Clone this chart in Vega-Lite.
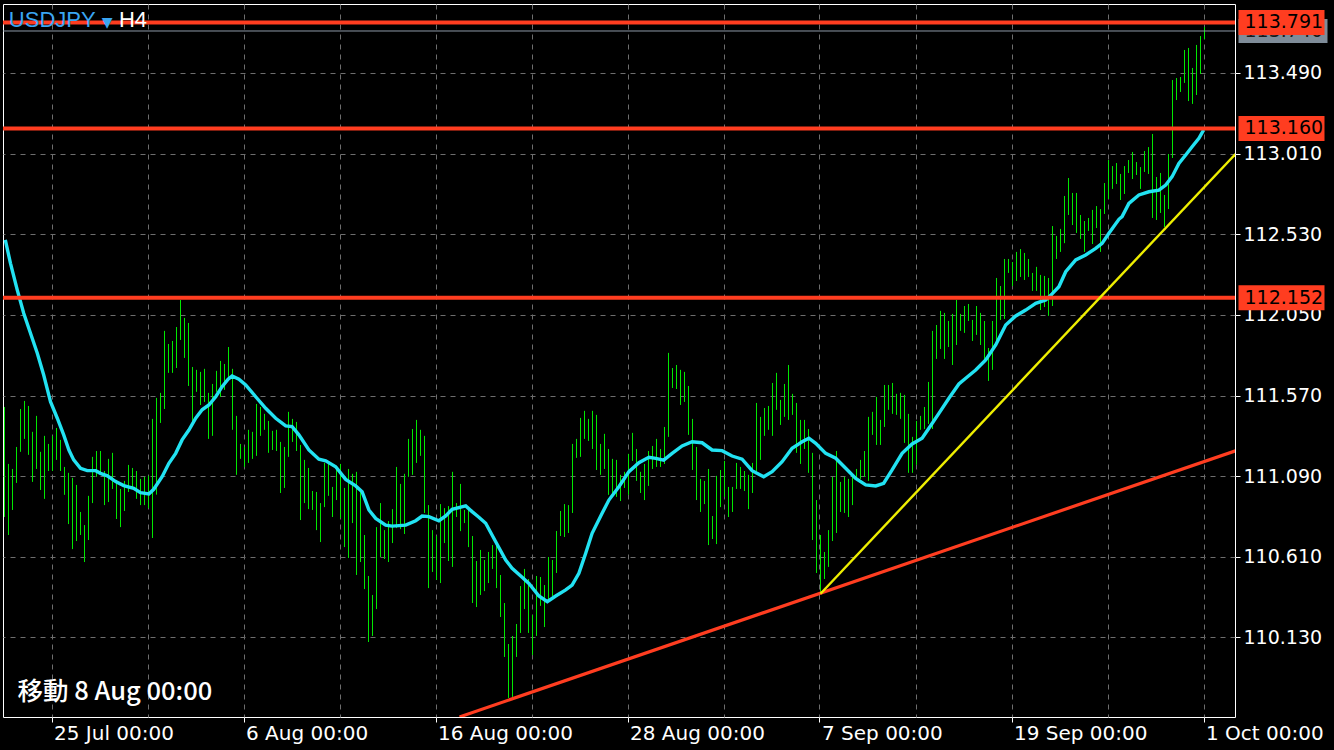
{
"$schema": "https://vega.github.io/schema/vega-lite/v6.json",
"autosize": {"type": "none"},
"width": 1232,
"height": 713,
"padding": {"left": 3, "top": 4, "right": 99, "bottom": 33},
"background": "#000000",
"config": {"view": {"stroke": "#ffffff", "strokeWidth": 1}},
"datasets": {
"bars": [
{"i":0,"h":111.502,"l":110.847},{"i":1,"h":111.163,"l":110.740},{"i":2,"h":111.133,"l":110.889},{"i":3,"h":111.264,"l":111.050},{"i":4,"h":111.490,"l":111.235},{"i":5,"h":111.538,"l":111.312},{"i":6,"h":111.508,"l":111.217},{"i":7,"h":111.354,"l":111.056},{"i":8,"h":111.449,"l":111.133},{"i":9,"h":111.235,"l":111.008},
{"i":10,"h":111.330,"l":110.955},{"i":11,"h":111.282,"l":111.121},{"i":12,"h":111.330,"l":111.121},{"i":13,"h":111.377,"l":111.187},{"i":14,"h":111.306,"l":111.121},{"i":15,"h":111.145,"l":110.979},{"i":16,"h":111.110,"l":110.805},{"i":17,"h":111.080,"l":110.656},{"i":18,"h":111.038,"l":110.704},{"i":19,"h":110.877,"l":110.740},
{"i":20,"h":110.799,"l":110.579},{"i":21,"h":110.973,"l":110.710},{"i":22,"h":111.205,"l":110.930},{"i":23,"h":111.240,"l":111.086},{"i":24,"h":111.240,"l":111.110},{"i":25,"h":111.121,"l":110.918},{"i":26,"h":111.193,"l":110.936},{"i":27,"h":111.229,"l":111.014},{"i":28,"h":111.068,"l":110.835},{"i":29,"h":111.014,"l":110.787},
{"i":30,"h":111.062,"l":110.883},{"i":31,"h":111.157,"l":110.996},{"i":32,"h":111.139,"l":111.014},{"i":33,"h":111.121,"l":110.955},{"i":34,"h":111.074,"l":110.918},{"i":35,"h":111.086,"l":110.918},{"i":36,"h":111.092,"l":110.900},{"i":37,"h":111.431,"l":110.722},{"i":38,"h":111.556,"l":110.980},{"i":39,"h":111.586,"l":111.407},
{"i":40,"h":111.955,"l":111.490},{"i":41,"h":111.877,"l":111.705},{"i":42,"h":111.895,"l":111.705},{"i":43,"h":111.978,"l":111.734},{"i":44,"h":112.139,"l":111.901},{"i":45,"h":112.032,"l":111.794},{"i":46,"h":112.002,"l":111.627},{"i":47,"h":111.740,"l":111.407},{"i":48,"h":111.723,"l":111.592},{"i":49,"h":111.711,"l":111.514},
{"i":50,"h":111.729,"l":111.532},{"i":51,"h":111.586,"l":111.312},{"i":52,"h":111.639,"l":111.330},{"i":53,"h":111.717,"l":111.592},{"i":54,"h":111.776,"l":111.562},{"i":55,"h":111.758,"l":111.604},{"i":56,"h":111.859,"l":111.663},{"i":57,"h":111.729,"l":111.366},{"i":58,"h":111.449,"l":111.098},{"i":59,"h":111.282,"l":111.193},
{"i":60,"h":111.264,"l":111.145},{"i":61,"h":111.366,"l":111.169},{"i":62,"h":111.354,"l":111.193},{"i":63,"h":111.520,"l":111.211},{"i":64,"h":111.502,"l":111.330},{"i":65,"h":111.461,"l":111.366},{"i":66,"h":111.419,"l":111.229},{"i":67,"h":111.360,"l":111.246},{"i":68,"h":111.366,"l":111.240},{"i":69,"h":111.294,"l":110.990},
{"i":70,"h":111.264,"l":111.020},{"i":71,"h":111.473,"l":111.205},{"i":72,"h":111.431,"l":111.294},{"i":73,"h":111.413,"l":111.240},{"i":74,"h":111.276,"l":110.829},{"i":75,"h":111.187,"l":110.930},{"i":76,"h":111.139,"l":110.894},{"i":77,"h":111.002,"l":110.889},{"i":78,"h":110.996,"l":110.769},{"i":79,"h":110.930,"l":110.698},
{"i":80,"h":111.169,"l":110.906},{"i":81,"h":111.163,"l":110.973},{"i":82,"h":111.026,"l":110.847},{"i":83,"h":111.127,"l":110.948},{"i":84,"h":111.163,"l":110.841},{"i":85,"h":111.020,"l":110.668},{"i":86,"h":111.133,"l":110.603},{"i":87,"h":111.104,"l":110.811},{"i":88,"h":111.116,"l":110.502},{"i":89,"h":111.008,"l":110.579},
{"i":90,"h":110.740,"l":110.418},{"i":91,"h":110.496,"l":110.103},{"i":92,"h":110.383,"l":110.139},{"i":93,"h":110.787,"l":110.299},{"i":94,"h":110.930,"l":110.609},{"i":95,"h":110.769,"l":110.597},{"i":96,"h":110.823,"l":110.579},{"i":97,"h":110.894,"l":110.692},{"i":98,"h":111.145,"l":110.781},{"i":99,"h":111.044,"l":110.775},
{"i":100,"h":111.104,"l":110.746},{"i":101,"h":111.312,"l":111.086},{"i":102,"h":111.371,"l":111.098},{"i":103,"h":111.425,"l":111.169},{"i":104,"h":111.366,"l":111.211},{"i":105,"h":111.330,"l":110.871},{"i":106,"h":110.918,"l":110.424},{"i":107,"h":110.769,"l":110.520},{"i":108,"h":110.734,"l":110.472},{"i":109,"h":110.924,"l":110.454},
{"i":110,"h":110.900,"l":110.692},{"i":111,"h":110.912,"l":110.585},{"i":112,"h":111.116,"l":110.550},{"i":113,"h":110.930,"l":110.847},{"i":114,"h":111.044,"l":110.763},{"i":115,"h":110.889,"l":110.811},{"i":116,"h":110.894,"l":110.668},{"i":117,"h":110.734,"l":110.335},{"i":118,"h":110.585,"l":110.311},{"i":119,"h":110.651,"l":110.383},
{"i":120,"h":110.591,"l":110.406},{"i":121,"h":110.639,"l":110.454},{"i":122,"h":110.680,"l":110.538},{"i":123,"h":110.680,"l":110.424},{"i":124,"h":110.502,"l":110.252},{"i":125,"h":110.335,"l":110.014},{"i":126,"h":110.091,"l":109.770},{"i":127,"h":110.139,"l":109.776},{"i":128,"h":110.210,"l":110.014},{"i":129,"h":110.436,"l":110.157},
{"i":130,"h":110.538,"l":110.299},{"i":131,"h":110.478,"l":110.157},{"i":132,"h":110.264,"l":110.026},{"i":133,"h":110.496,"l":110.139},{"i":134,"h":110.490,"l":110.318},{"i":135,"h":110.442,"l":110.192},{"i":136,"h":110.609,"l":110.341},{"i":137,"h":110.591,"l":110.377},{"i":138,"h":110.764,"l":110.514},{"i":139,"h":110.883,"l":110.734},
{"i":140,"h":110.924,"l":110.728},{"i":141,"h":110.918,"l":110.752},{"i":142,"h":111.282,"l":110.871},{"i":143,"h":111.312,"l":111.199},{"i":144,"h":111.437,"l":111.205},{"i":145,"h":111.479,"l":111.312},{"i":146,"h":111.431,"l":111.300},{"i":147,"h":111.479,"l":111.252},{"i":148,"h":111.455,"l":111.127},{"i":149,"h":111.282,"l":111.098},
{"i":150,"h":111.342,"l":111.133},{"i":151,"h":111.252,"l":110.979},{"i":152,"h":111.193,"l":110.967},{"i":153,"h":111.187,"l":110.967},{"i":154,"h":111.098,"l":110.942},{"i":155,"h":111.116,"l":111.020},{"i":156,"h":111.223,"l":110.979},{"i":157,"h":111.348,"l":111.181},{"i":158,"h":111.252,"l":111.062},{"i":159,"h":111.116,"l":110.990},
{"i":160,"h":111.163,"l":110.948},{"i":161,"h":111.240,"l":111.032},{"i":162,"h":111.270,"l":111.133},{"i":163,"h":111.312,"l":111.145},{"i":164,"h":111.252,"l":111.145},{"i":165,"h":111.383,"l":111.163},{"i":166,"h":111.824,"l":111.324},{"i":167,"h":111.734,"l":111.615},{"i":168,"h":111.752,"l":111.609},{"i":169,"h":111.723,"l":111.514},
{"i":170,"h":111.711,"l":111.532},{"i":171,"h":111.627,"l":111.336},{"i":172,"h":111.431,"l":111.127},{"i":173,"h":111.264,"l":110.948},{"i":174,"h":111.074,"l":110.877},{"i":175,"h":111.062,"l":110.924},{"i":176,"h":111.133,"l":110.680},{"i":177,"h":110.853,"l":110.716},{"i":178,"h":111.092,"l":110.686},{"i":179,"h":111.127,"l":110.906},
{"i":180,"h":111.181,"l":110.967},{"i":181,"h":111.026,"l":110.847},{"i":182,"h":111.026,"l":110.877},{"i":183,"h":111.169,"l":111.014},{"i":184,"h":111.145,"l":111.014},{"i":185,"h":111.121,"l":111.002},{"i":186,"h":111.098,"l":110.894},{"i":187,"h":111.169,"l":110.990},{"i":188,"h":111.526,"l":111.121},{"i":189,"h":111.443,"l":111.187},
{"i":190,"h":111.496,"l":111.330},{"i":191,"h":111.508,"l":111.366},{"i":192,"h":111.645,"l":111.330},{"i":193,"h":111.705,"l":111.485},{"i":194,"h":111.544,"l":111.395},{"i":195,"h":111.639,"l":111.443},{"i":196,"h":111.752,"l":111.425},{"i":197,"h":111.580,"l":111.455},{"i":198,"h":111.526,"l":111.229},{"i":199,"h":111.425,"l":111.163},
{"i":200,"h":111.425,"l":111.252},{"i":201,"h":111.371,"l":111.110},{"i":202,"h":111.229,"l":110.710},{"i":203,"h":110.948,"l":110.514},{"i":204,"h":110.740,"l":110.390},{"i":205,"h":110.639,"l":110.478},{"i":206,"h":110.769,"l":110.550},{"i":207,"h":111.086,"l":110.704},{"i":208,"h":111.240,"l":110.752},{"i":209,"h":111.056,"l":110.877},
{"i":210,"h":111.086,"l":110.871},{"i":211,"h":111.074,"l":110.847},{"i":212,"h":111.086,"l":110.918},{"i":213,"h":111.133,"l":111.074},{"i":214,"h":111.187,"l":111.074},{"i":215,"h":111.240,"l":111.086},{"i":216,"h":111.443,"l":111.062},{"i":217,"h":111.473,"l":111.336},{"i":218,"h":111.562,"l":111.276},{"i":219,"h":111.425,"l":111.276},
{"i":220,"h":111.633,"l":111.383},{"i":221,"h":111.633,"l":111.485},{"i":222,"h":111.645,"l":111.461},{"i":223,"h":111.580,"l":111.455},{"i":224,"h":111.586,"l":111.431},{"i":225,"h":111.574,"l":111.288},{"i":226,"h":111.461,"l":111.110},{"i":227,"h":111.324,"l":111.110},{"i":228,"h":111.419,"l":111.157},{"i":229,"h":111.449,"l":111.366},
{"i":230,"h":111.502,"l":111.371},{"i":231,"h":111.651,"l":111.401},{"i":232,"h":111.955,"l":111.371},{"i":233,"h":111.990,"l":111.788},{"i":234,"h":112.074,"l":111.847},{"i":235,"h":112.062,"l":111.788},{"i":236,"h":112.014,"l":111.859},{"i":237,"h":112.056,"l":111.752},{"i":238,"h":112.139,"l":111.871},{"i":239,"h":112.056,"l":111.955},
{"i":240,"h":112.103,"l":111.943},{"i":241,"h":112.115,"l":112.014},{"i":242,"h":112.020,"l":111.895},{"i":243,"h":112.103,"l":111.931},{"i":244,"h":112.062,"l":111.871},{"i":245,"h":112.014,"l":111.764},{"i":246,"h":111.853,"l":111.657},{"i":247,"h":112.014,"l":111.723},{"i":248,"h":112.270,"l":111.895},{"i":249,"h":112.222,"l":112.020},
{"i":250,"h":112.383,"l":112.026},{"i":251,"h":112.383,"l":112.300},{"i":252,"h":112.365,"l":112.222},{"i":253,"h":112.425,"l":112.252},{"i":254,"h":112.442,"l":112.276},{"i":255,"h":112.419,"l":112.258},{"i":256,"h":112.383,"l":112.276},{"i":257,"h":112.300,"l":112.193},{"i":258,"h":112.336,"l":112.193},{"i":259,"h":112.288,"l":112.079},
{"i":260,"h":112.282,"l":112.097},{"i":261,"h":112.270,"l":112.044},{"i":262,"h":112.579,"l":112.103},{"i":263,"h":112.520,"l":112.383},{"i":264,"h":112.562,"l":112.425},{"i":265,"h":112.758,"l":112.477},{"i":266,"h":112.865,"l":112.645},{"i":267,"h":112.776,"l":112.585},{"i":268,"h":112.776,"l":112.538},{"i":269,"h":112.645,"l":112.502},
{"i":270,"h":112.609,"l":112.425},{"i":271,"h":112.627,"l":112.550},{"i":272,"h":112.675,"l":112.472},{"i":273,"h":112.698,"l":112.567},{"i":274,"h":112.680,"l":112.425},{"i":275,"h":112.835,"l":112.651},{"i":276,"h":112.972,"l":112.740},{"i":277,"h":112.936,"l":112.800},{"i":278,"h":112.954,"l":112.829},{"i":279,"h":112.889,"l":112.734},
{"i":280,"h":112.936,"l":112.770},{"i":281,"h":112.972,"l":112.895},{"i":282,"h":113.020,"l":112.859},{"i":283,"h":112.960,"l":112.883},{"i":284,"h":112.930,"l":112.800},{"i":285,"h":113.026,"l":112.901},{"i":286,"h":113.049,"l":112.889},{"i":287,"h":113.127,"l":112.627},{"i":288,"h":112.871,"l":112.615},{"i":289,"h":112.895,"l":112.657},
{"i":290,"h":112.764,"l":112.573},{"i":291,"h":113.008,"l":112.680},{"i":292,"h":113.448,"l":112.984},{"i":293,"h":113.460,"l":113.329},{"i":294,"h":113.466,"l":113.377},{"i":295,"h":113.627,"l":113.431},{"i":296,"h":113.639,"l":113.323},{"i":297,"h":113.520,"l":113.306},{"i":298,"h":113.657,"l":113.359},{"i":299,"h":113.710,"l":113.484},
{"i":300,"h":113.764,"l":113.692}
],
"ma": [
{"i":0.2,"p":112.496},{"i":1.5,"p":112.357},{"i":3.2,"p":112.198},{"i":4.8,"p":112.060},{"i":6.5,"p":111.941},{"i":8.2,"p":111.822},{"i":9.8,"p":111.692},{"i":11.5,"p":111.533},{"i":13.2,"p":111.435},{"i":14.8,"p":111.336},{"i":16.1,"p":111.246},{"i":17.3,"p":111.187},{"i":19,"p":111.137},{"i":20.7,"p":111.123},{"i":22.8,"p":111.123},{"i":24,"p":111.107},{"i":25.7,"p":111.092},{"i":27.8,"p":111.058},{"i":29.8,"p":111.034},{"i":32.3,"p":111.018},{"i":34,"p":110.992},{"i":36.1,"p":110.984},{"i":37.3,"p":111.012},{"i":39.4,"p":111.087},{"i":41.1,"p":111.167},{"i":42.8,"p":111.226},{"i":44.4,"p":111.306},{"i":46.1,"p":111.365},{"i":47.8,"p":111.435},{"i":49.4,"p":111.485},{"i":51.1,"p":111.514},{"i":52.8,"p":111.563},{"i":54.4,"p":111.623},{"i":55.9,"p":111.667},{"i":56.9,"p":111.686},{"i":58.6,"p":111.667},{"i":60.3,"p":111.633},{"i":62.8,"p":111.563},{"i":65.3,"p":111.494},{"i":67.8,"p":111.435},{"i":70.3,"p":111.389},{"i":71.9,"p":111.385},{"i":73.6,"p":111.336},{"i":76.1,"p":111.246},{"i":78.6,"p":111.191},{"i":80.3,"p":111.181},{"i":82.8,"p":111.146},{"i":85.3,"p":111.071},{"i":87.8,"p":111.032},{"i":89.4,"p":110.998},{"i":91.1,"p":110.889},{"i":92.8,"p":110.839},{"i":95.3,"p":110.799},{"i":96.9,"p":110.793},{"i":100.3,"p":110.799},{"i":102.8,"p":110.825},{"i":104.4,"p":110.853},{"i":106.1,"p":110.849},{"i":108.6,"p":110.825},{"i":110.3,"p":110.853},{"i":111.9,"p":110.893},{"i":115.3,"p":110.913},{"i":116.9,"p":110.879},{"i":118.6,"p":110.846},{"i":120.3,"p":110.810},{"i":122.8,"p":110.700},{"i":125.3,"p":110.591},{"i":126.9,"p":110.542},{"i":129.4,"p":110.488},{"i":131.1,"p":110.452},{"i":133.6,"p":110.377},{"i":135.7,"p":110.343},{"i":137.8,"p":110.377},{"i":140.3,"p":110.413},{"i":141.9,"p":110.442},{"i":143.6,"p":110.512},{"i":145.3,"p":110.631},{"i":146.9,"p":110.750},{"i":149.4,"p":110.869},{"i":151.1,"p":110.948},{"i":153.6,"p":111.027},{"i":156.1,"p":111.117},{"i":158.6,"p":111.170},{"i":161.1,"p":111.202},{"i":162.8,"p":111.196},{"i":164.8,"p":111.186},{"i":166.9,"p":111.226},{"i":169.4,"p":111.270},{"i":171.9,"p":111.295},{"i":174.4,"p":111.289},{"i":176.9,"p":111.246},{"i":179.4,"p":111.242},{"i":181.9,"p":111.210},{"i":184.4,"p":111.191},{"i":186.9,"p":111.123},{"i":189.8,"p":111.087},{"i":191.9,"p":111.117},{"i":194.4,"p":111.176},{"i":196.9,"p":111.256},{"i":198.6,"p":111.282},{"i":199.4,"p":111.295},{"i":201.1,"p":111.316},{"i":202.8,"p":111.286},{"i":205.3,"p":111.226},{"i":207.8,"p":111.197},{"i":210.3,"p":111.137},{"i":212.8,"p":111.077},{"i":215.3,"p":111.038},{"i":217.8,"p":111.032},{"i":219.8,"p":111.048},{"i":221.9,"p":111.127},{"i":224.4,"p":111.226},{"i":226.9,"p":111.282},{"i":229.4,"p":111.316},{"i":231.1,"p":111.375},{"i":233.6,"p":111.464},{"i":236.1,"p":111.554},{"i":238.6,"p":111.639},{"i":240.3,"p":111.673},{"i":242.8,"p":111.722},{"i":245.3,"p":111.782},{"i":247.8,"p":111.871},{"i":250.3,"p":111.990},{"i":252.8,"p":112.044},{"i":255.3,"p":112.079},{"i":257.8,"p":112.119},{"i":260.3,"p":112.139},{"i":261.9,"p":112.175},{"i":263.6,"p":112.218},{"i":265.3,"p":112.307},{"i":267.8,"p":112.377},{"i":270.3,"p":112.407},{"i":272.8,"p":112.446},{"i":274.4,"p":112.476},{"i":276.1,"p":112.536},{"i":278.6,"p":112.619},{"i":279.4,"p":112.635},{"i":281.1,"p":112.714},{"i":283.6,"p":112.764},{"i":286.1,"p":112.783},{"i":288.6,"p":112.793},{"i":290.3,"p":112.823},{"i":291.9,"p":112.873},{"i":293.6,"p":112.952},{"i":295.3,"p":113.002},{"i":296.9,"p":113.051},{"i":298.6,"p":113.101},{"i":299.8,"p":113.151}
],
"levels": [{"p":113.791},{"p":113.160},{"p":112.152}],
"last": [{"p":113.740}],
"trends": [
{"line":"support","i":113.75,"p":109.657},{"line":"support","i":307.75,"p":111.241},
{"line":"channel","i":204,"p":110.390},{"line":"channel","i":307.75,"p":113.008}
]
},
"layer": [
{
"data": {"name": "bars"},
"mark": {"type": "rule", "color": "#00E800", "strokeWidth": 1, "clip": true},
"encoding": {
"x": {"field": "i", "type": "quantitative", "title": null,
"scale": {"domain": [-0.375, 307.625], "nice": false, "zero": false},
"axis": {"orient": "bottom", "values": [11.75,35.75,59.75,83.75,107.75,131.75,155.75,179.75,203.75,227.75,251.75,275.75,299.75],
"labelExpr": "datum.value == 11.75 ? '25 Jul 00:00' : datum.value == 59.75 ? '6 Aug 00:00' : datum.value == 107.75 ? '16 Aug 00:00' : datum.value == 155.75 ? '28 Aug 00:00' : datum.value == 203.75 ? '7 Sep 00:00' : datum.value == 251.75 ? '19 Sep 00:00' : datum.value == 299.75 ? '1 Oct 00:00' : ''",
"labelAlign": "left", "labelBaseline": "top", "labelOffset": 2, "labelPadding": 1,
"labelColor": "#ffffff", "labelFont": "DejaVu Sans", "labelFontSize": 20,
"labelOverlap": false, "labelFlush": false, "labelBound": false,
"tickColor": "#ffffff", "tickSize": 5,
"tickOpacity": {"condition": {"test": "indexof([11.75,59.75,107.75,155.75,203.75,251.75,299.75], datum.value) >= 0", "value": 1}, "value": 0},
"domain": false, "grid": true, "gridColor": "#6e6e6e", "gridDash": [5, 5], "gridWidth": 1}},
"y": {"field": "h", "type": "quantitative", "title": null,
"scale": {"domain": [109.6566, 113.9007], "nice": false, "zero": false},
"axis": {"orient": "right", "values": [110.13,110.61,111.09,111.57,112.05,112.53,113.01,113.49],
"format": ".3f", "labelColor": "#ffffff", "labelFont": "DejaVu Sans", "labelFontSize": 19,
"labelPadding": 3, "labelOverlap": false, "labelFlush": false, "labelBound": false,
"tickColor": "#ffffff", "tickSize": 5,
"domain": false, "grid": true, "gridColor": "#6e6e6e", "gridDash": [5, 5], "gridWidth": 1}},
"y2": {"field": "l"}
}
},
{
"data": {"name": "ma"},
"mark": {"type": "line", "color": "#22E2F2", "strokeWidth": 3.4, "clip": true},
"encoding": {
"x": {"field": "i", "type": "quantitative"},
"y": {"field": "p", "type": "quantitative"}
}
},
{
"data": {"name": "last"},
"mark": {"type": "rule", "color": "#8C99A6", "strokeWidth": 1},
"encoding": {"y": {"field": "p", "type": "quantitative"}}
},
{
"data": {"name": "levels"},
"mark": {"type": "rule", "color": "#FF3D20", "strokeWidth": 4},
"encoding": {"y": {"field": "p", "type": "quantitative"}}
},
{
"data": {"name": "trends"},
"transform": [{"filter": "datum.line == 'support'"}],
"mark": {"type": "line", "color": "#FF3D20", "strokeWidth": 3.2, "clip": true},
"encoding": {
"x": {"field": "i", "type": "quantitative"},
"y": {"field": "p", "type": "quantitative"}
}
},
{
"data": {"name": "trends"},
"transform": [{"filter": "datum.line == 'channel'"}],
"mark": {"type": "line", "color": "#EEEE00", "strokeWidth": 2.4, "clip": true},
"encoding": {
"x": {"field": "i", "type": "quantitative"},
"y": {"field": "p", "type": "quantitative"}
}
},
{
"data": {"name": "last"},
"mark": {"type": "rule", "color": "#7F8C99", "strokeWidth": 24, "strokeCap": "butt", "clip": false},
"encoding": {
"x": {"datum": 308.5, "type": "quantitative"},
"x2": {"datum": 330.75},
"y": {"field": "p", "type": "quantitative"}
}
},
{
"data": {"name": "last"},
"mark": {"type": "text", "color": "#1a1a1a", "font": "DejaVu Sans", "fontSize": 19, "align": "left", "baseline": "middle", "clip": false},
"encoding": {
"x": {"datum": 310, "type": "quantitative"},
"y": {"field": "p", "type": "quantitative"},
"text": {"field": "p", "type": "quantitative", "format": ".3f"}
}
},
{
"data": {"name": "levels"},
"mark": {"type": "rule", "color": "#FF3D20", "strokeWidth": 25, "strokeCap": "butt", "clip": false},
"encoding": {
"x": {"datum": 308.5, "type": "quantitative"},
"x2": {"datum": 330},
"y": {"field": "p", "type": "quantitative"}
}
},
{
"data": {"name": "levels"},
"mark": {"type": "text", "color": "#000000", "font": "DejaVu Sans", "fontSize": 19, "align": "left", "baseline": "middle", "clip": false},
"encoding": {
"x": {"datum": 310, "type": "quantitative"},
"y": {"field": "p", "type": "quantitative"},
"text": {"field": "p", "type": "quantitative", "format": ".3f"}
}
},
{
"data": {"values": [{"label": "USDJPY"}]},
"mark": {"type": "text", "color": "#3AA6F2", "font": "Liberation Sans", "fontSize": 22, "align": "left", "baseline": "middle"},
"encoding": {
"x": {"datum": 1.08, "type": "quantitative"},
"y": {"datum": 113.8055, "type": "quantitative"},
"text": {"field": "label"}
}
},
{
"data": {"values": [{"label": "▼"}]},
"mark": {"type": "text", "color": "#3AA6F2", "font": "DejaVu Sans", "fontSize": 14, "align": "left", "baseline": "middle"},
"encoding": {
"x": {"datum": 24.3, "type": "quantitative"},
"y": {"datum": 113.79, "type": "quantitative"},
"text": {"field": "label"}
}
},
{
"data": {"values": [{"label": "H4"}]},
"mark": {"type": "text", "color": "#ffffff", "font": "Liberation Sans", "fontSize": 22, "align": "left", "baseline": "middle"},
"encoding": {
"x": {"datum": 28.6, "type": "quantitative"},
"y": {"datum": 113.8055, "type": "quantitative"},
"text": {"field": "label"}
}
},
{
"data": {"values": [{"label": "移動 8 Aug 00:00"}]},
"mark": {"type": "text", "color": "#ffffff", "font": "Noto Sans CJK JP", "fontSize": 25.5, "fontWeight": 500, "align": "left", "baseline": "middle"},
"encoding": {
"x": {"datum": 3.25, "type": "quantitative"},
"y": {"datum": 109.808, "type": "quantitative"},
"text": {"field": "label"}
}
}
]
}
